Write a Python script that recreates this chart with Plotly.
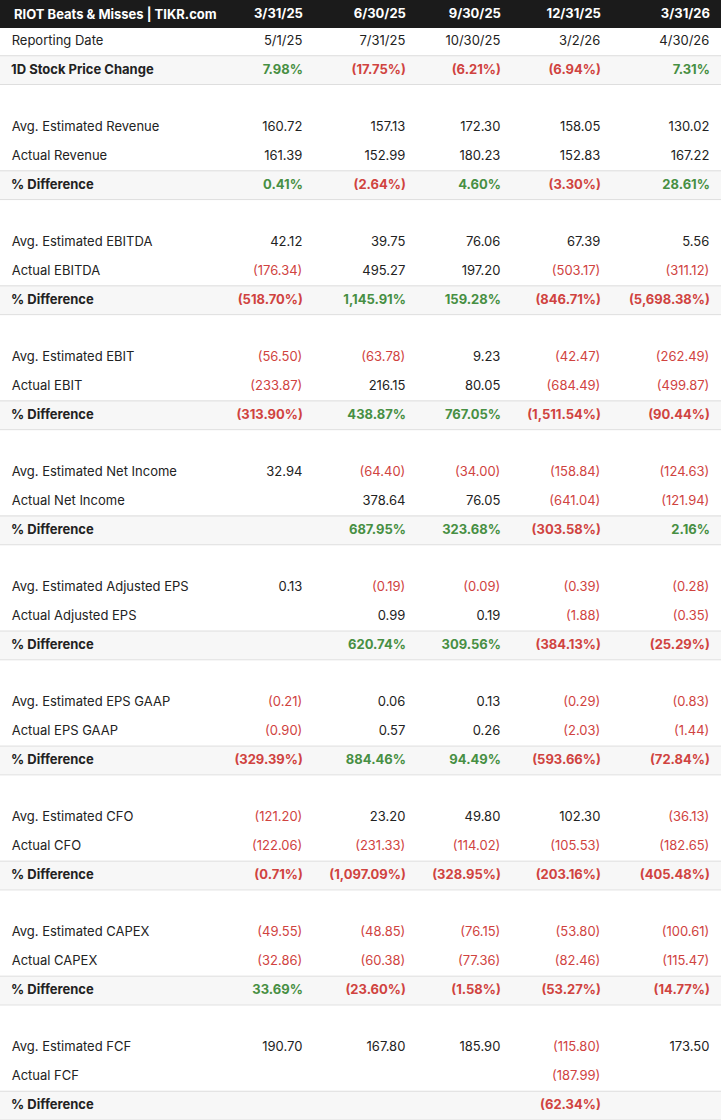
import plotly.graph_objects as go

# quarters + reporting dates
periods = ["3/31/25", "6/30/25", "9/30/25", "12/31/25", "3/31/26"]
report_dates = ["5/1/25", "7/31/25", "10/30/25", "3/2/26", "4/30/26"]
price_change = [7.98, -17.75, -6.21, -6.94, 7.31]

est_revenue = [160.72, 157.13, 172.30, 158.05, 130.02]
act_revenue = [161.39, 152.99, 180.23, 152.83, 167.22]
diff_revenue = [0.41, -2.64, 4.60, -3.30, 28.61]

est_ebitda = [42.12, 39.75, 76.06, 67.39, 5.56]
act_ebitda = [-176.34, 495.27, 197.20, -503.17, -311.12]
diff_ebitda = [-518.70, 1145.91, 159.28, -846.71, -5698.38]

est_ebit = [-56.50, -63.78, 9.23, -42.47, -262.49]
act_ebit = [-233.87, 216.15, 80.05, -684.49, -499.87]
diff_ebit = [-313.90, 438.87, 767.05, -1511.54, -90.44]

est_net_income = [32.94, -64.40, -34.00, -158.84, -124.63]
act_net_income = [None, 378.64, 76.05, -641.04, -121.94]
diff_net_income = [None, 687.95, 323.68, -303.58, 2.16]

est_adj_eps = [0.13, -0.19, -0.09, -0.39, -0.28]
act_adj_eps = [None, 0.99, 0.19, -1.88, -0.35]
diff_adj_eps = [None, 620.74, 309.56, -384.13, -25.29]

est_eps_gaap = [-0.21, 0.06, 0.13, -0.29, -0.83]
act_eps_gaap = [-0.90, 0.57, 0.26, -2.03, -1.44]
diff_eps_gaap = [-329.39, 884.46, 94.49, -593.66, -72.84]

est_cfo = [-121.20, 23.20, 49.80, 102.30, -36.13]
act_cfo = [-122.06, -231.33, -114.02, -105.53, -182.65]
diff_cfo = [-0.71, -1097.09, -328.95, -203.16, -405.48]

est_capex = [-49.55, -48.85, -76.15, -53.80, -100.61]
act_capex = [-32.86, -60.38, -77.36, -82.46, -115.47]
diff_capex = [33.69, -23.60, -1.58, -53.27, -14.77]

est_fcf = [190.70, 167.80, 185.90, -115.80, 173.50]
act_fcf = [None, None, None, -187.99, None]
diff_fcf = [None, None, None, -62.34, None]

title = "RIOT Beats & Misses | TIKR.com"

DARK = "#222222"
RED = "#d0433f"
GREEN = "#478f43"
GRAY_BG = "#f7f7f7"
LINE = "#dedede"
HEAD_BG = "#1b1b1b"
CLEAR = "rgba(0,0,0,0)"
NB = "\u00a0"  # non-breaking space: plotly grows rows that contain plain spaces / markup

groups = [
    ("Revenue", est_revenue, act_revenue, diff_revenue),
    ("EBITDA", est_ebitda, act_ebitda, diff_ebitda),
    ("EBIT", est_ebit, act_ebit, diff_ebit),
    ("Net Income", est_net_income, act_net_income, diff_net_income),
    ("Adjusted EPS", est_adj_eps, act_adj_eps, diff_adj_eps),
    ("EPS GAAP", est_eps_gaap, act_eps_gaap, diff_eps_gaap),
    ("CFO", est_cfo, act_cfo, diff_cfo),
    ("CAPEX", est_capex, act_capex, diff_capex),
    ("FCF", est_fcf, act_fcf, diff_fcf),
]

rows = [("Reporting Date", report_dates, "date"),
        ("1D Stock Price Change", price_change, "pct")]
for name, est, act, diff in groups:
    rows.append(("", [None] * 5, "blank"))
    rows.append(("Avg. Estimated " + name, est, "num"))
    rows.append(("Actual " + name, act, "num"))
    rows.append(("% Difference", diff, "pct"))


def fmt(v, kind):
    if v is None:
        return "", DARK
    if kind == "date":
        return v + NB, DARK
    s = "{:,.2f}".format(abs(v))
    if kind == "pct":
        s = s + "%"
    if v < 0:
        s = "(" + s + ")"
    if kind == "pct":
        return s + NB, GREEN if v >= 0 else RED
    return s + NB, RED if v < 0 else DARK


# regular text goes in one table, bold rows in a transparent copy laid on top
# (table font weight can only vary per column, not per cell)
n_cols = len(periods) + 1
texts = [[] for _ in range(n_cols)]
bold_texts = [[] for _ in range(n_cols)]
colors = [[] for _ in range(n_cols)]
fills = []
for label, vals, kind in rows:
    cells = [NB + label.replace(" ", NB) if label else ""]
    cols = [DARK]
    for v in vals:
        t, c = fmt(v, kind)
        cells.append(t)
        cols.append(c)
    for j in range(n_cols):
        texts[j].append("" if kind == "pct" else cells[j])
        bold_texts[j].append(cells[j] if kind == "pct" else "")
        colors[j].append(cols[j])
    fills.append(GRAY_BG if kind == "pct" else "white")

fill_cols = [fills] * n_cols

W, H = 721, 1120
header_h = 27
row_h = (H - header_h) / len(rows)
col_w = [211, 103, 103, 95, 100, 109]
aligns = ["left"] + ["right"] * 5

fig = go.Figure()
fig.add_trace(go.Table(
    columnwidth=col_w,
    header=dict(
        values=[""] + [p + NB for p in periods],
        fill_color=HEAD_BG,
        line=dict(color=HEAD_BG, width=1),
        align=aligns,
        font=dict(family="Inter", size=13, color="white", weight="bold"),
        height=header_h,
    ),
    cells=dict(
        values=texts,
        fill_color=fill_cols,
        line=dict(color=fill_cols, width=1),
        align=aligns,
        font=dict(family="Inter", size=13, color=colors),
        height=row_h,
    ),
    domain=dict(x=[0, 1], y=[0, 1]),
))
fig.add_trace(go.Table(
    columnwidth=col_w,
    header=dict(
        values=[""] * n_cols,
        fill_color=CLEAR,
        line=dict(color=CLEAR, width=0),
        height=header_h,
    ),
    cells=dict(
        values=bold_texts,
        fill_color=CLEAR,
        line=dict(color=CLEAR, width=0),
        align=aligns,
        font=dict(family="Inter", size=13, color=colors, weight="bold"),
        height=row_h,
    ),
    domain=dict(x=[0, 1], y=[0, 1]),
))

# thin borders around the shaded rows
shapes = []
for i, (label, vals, kind) in enumerate(rows):
    if kind != "pct":
        continue
    for edge in (i, i + 1):
        y = 1 - (header_h + edge * row_h) / H
        shapes.append(dict(type="line", xref="paper", yref="paper", x0=0, x1=1, y0=y, y1=y,
                           line=dict(color=LINE, width=1)))

fig.update_layout(
    width=W, height=H,
    margin=dict(l=0, r=0, t=0, b=0),
    paper_bgcolor="white",
    shapes=shapes,
    # title kept as an annotation because "&" makes plotly grow the header cell
    annotations=[dict(text="<b>" + title + "</b>", xref="paper", yref="paper",
                      x=12 / W, y=1 - header_h / 2 / H, xanchor="left", yanchor="middle",
                      showarrow=False, font=dict(family="Inter", size=13, color="white"))],
)

# page body has an 8px default margin, drop it so the table fills the window
fig.write_html("out.html", config={"displayModeBar": False},
               post_script="document.body.style.margin='0';")
